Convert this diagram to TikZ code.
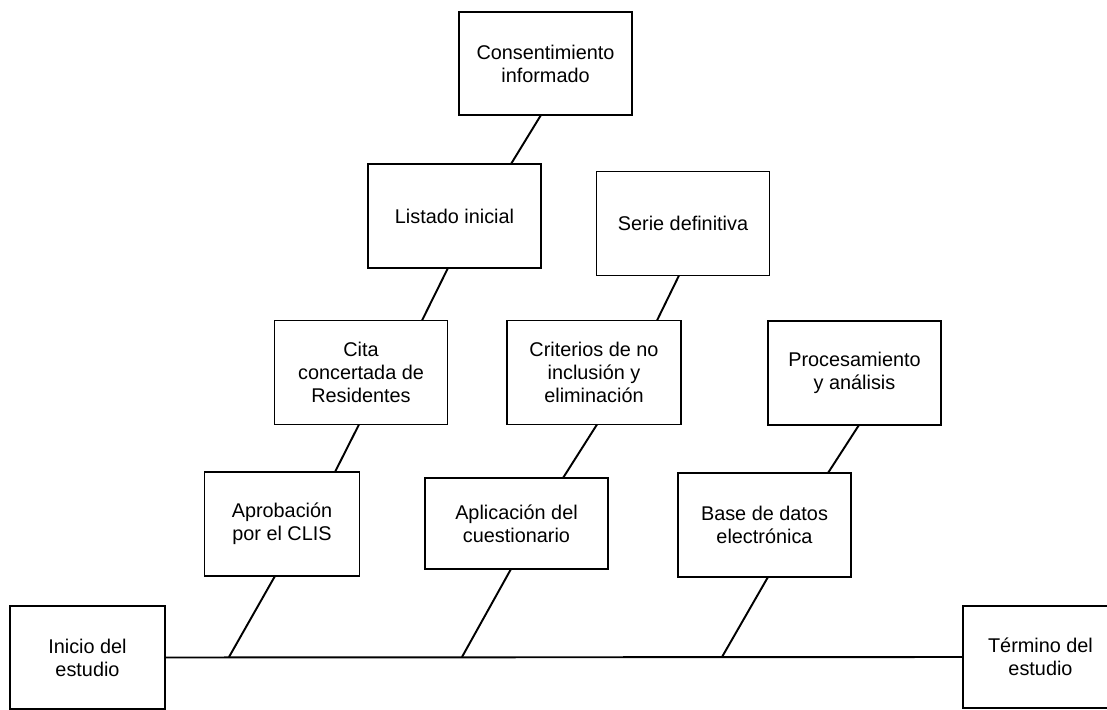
\documentclass[tikz,border=0pt]{standalone}
\usepackage{fontspec}
\setmainfont{Liberation Sans}
\begin{document}
\begin{tikzpicture}[x=0.02cm, y=-0.02cm]
    % Define styles for shapes
    \tikzstyle{caja} = [draw, line width=0.8pt, fill=white, minimum width=3.46cm, minimum height=2.08cm, inner sep=0pt, outer sep=0pt, align=center, font=\fontsize{11.3}{13.2}\selectfont]
    \tikzstyle{linea} = [line width=1.1pt]

    \useasboundingbox (0,0) rectangle (1107,710);

    % Draw the start and end boxes
    \node[caja, minimum width=3.1cm, minimum height=2.06cm] (inicio) at (87.5,657.5) {Inicio del\\estudio};
    \node[caja, minimum width=3.1cm, minimum height=2.04cm] (termino) at (1040.5,657) {Término del\\estudio};

    % Draw the main line
    \draw[linea] (inicio.east) -- (termino.west);
    \coordinate (p1) at (229,657);
    \coordinate (p2) at (462,657);
    \coordinate (p3) at (722,657);

    % Draw the rectangles of the branches
    \node[caja, minimum width=3.1cm] (aprobacion) at (282,524) {Aprobación\\por el CLIS};
    \node[caja] (cita) at (361,372.5) {Cita\\concertada de\\Residentes};
    \node[caja] (listado) at (454.5,216) {Listado inicial};
    \node[caja, minimum height=2.06cm] (consentimiento) at (545.5,63.5) {Consentimiento\\informado};

    \node[caja, minimum width=3.66cm, minimum height=1.82cm] (aplicacion) at (516.5,523.5) {Aplicación del\\cuestionario};
    \node[caja, minimum width=3.48cm] (criterios) at (594,372.5) {Criterios de no\\inclusión y\\eliminación};
    \node[caja] (serie) at (683,223.5) {Serie definitiva};

    \node[caja] (base) at (764.5,525) {Base de datos\\electrónica};
    \node[caja] (procesamiento) at (854.5,373) {Procesamiento\\y análisis};

    % Draw the lines between the rectangles
    \draw[linea] ([xshift=-0.14cm]aprobacion.south) -- (p1);
    \draw[linea] ([xshift=-0.04cm]cita.south) -- ([xshift=1.06cm]aprobacion.north);
    \draw[linea] ([xshift=-0.13cm]listado.south) -- ([xshift=1.22cm]cita.north);
    \draw[linea] ([xshift=-0.09cm]consentimiento.south) -- ([xshift=1.13cm]listado.north);

    \draw[linea] ([xshift=-0.11cm]aplicacion.south) -- (p2);
    \draw[linea] ([xshift=0.06cm]criterios.south) -- ([xshift=0.93cm]aplicacion.north);
    \draw[linea] ([xshift=-0.08cm]serie.south) -- ([xshift=1.26cm]criterios.north);

    \draw[linea] ([xshift=0.07cm]base.south) -- (p3);
    \draw[linea] ([xshift=0.09cm]procesamiento.south) -- ([xshift=1.27cm]base.north);

\end{tikzpicture}
\end{document}
